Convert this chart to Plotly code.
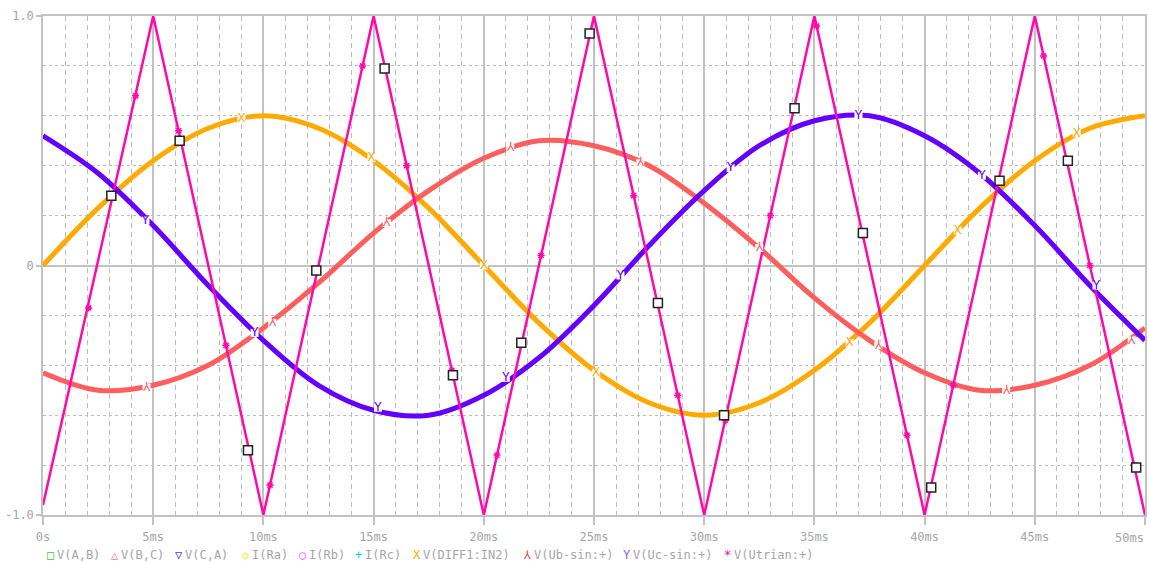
import plotly.graph_objects as go

# ---- time base (ms) and sampled waveforms ----
t_ms = [0, 2.5, 5, 7.5, 10, 12.5, 15, 17.5, 20, 22.5, 25,
        27.5, 30, 32.5, 35, 37.5, 40, 42.5, 45, 47.5, 50]

v_diff1_in2 = [0.00, 0.23, 0.42, 0.55, 0.60, 0.55, 0.42, 0.23, 0.00, -0.23, -0.42,
               -0.55, -0.60, -0.55, -0.42, -0.23, 0.00, 0.23, 0.42, 0.55, 0.60]
v_ub_sin = [-0.43, -0.50, -0.48, -0.40, -0.25, -0.07, 0.13, 0.30, 0.43, 0.50, 0.48,
            0.40, 0.25, 0.07, -0.13, -0.30, -0.43, -0.50, -0.48, -0.40, -0.25]
v_uc_sin = [0.52, 0.37, 0.16, -0.08, -0.30, -0.48, -0.58, -0.60, -0.52, -0.37, -0.16,
            0.08, 0.30, 0.48, 0.58, 0.60, 0.52, 0.37, 0.16, -0.08, -0.30]

# triangle carrier: vertices only
t_trian = [0, 5, 10, 15, 20, 25, 30, 35, 40, 45, 50]
v_trian = [-0.96, 1.0, -1.0, 1.0, -1.0, 1.0, -1.0, 1.0, -1.0, 1.0, -1.0]

# ---- trace symbol positions ----
x_mark_t = [9.0, 14.9, 20.0, 25.1, 30.9, 36.6, 41.5, 46.9]
x_mark_v = [0.59, 0.43, 0.00, -0.43, -0.60, -0.31, 0.14, 0.53]

lam_mark_t = [4.7, 10.4, 15.6, 21.2, 27.1, 32.5, 37.9, 43.7, 49.4]
lam_mark_v = [-0.49, -0.23, 0.17, 0.47, 0.41, 0.07, -0.32, -0.50, -0.30]

y_mark_t = [4.65, 9.6, 15.2, 21.0, 26.2, 31.2, 37.0, 42.6, 47.8]
y_mark_v = [0.18, -0.27, -0.57, -0.45, -0.04, 0.39, 0.60, 0.36, -0.08]

star_mark_t = [2.07, 4.2, 6.15, 8.3, 10.3, 14.5, 16.5, 18.55, 20.6, 22.6, 26.8,
               28.8, 30.96, 33.0, 35.1, 37.2, 39.2, 41.3, 45.4, 47.5, 49.5]
star_mark_v = [-0.17, 0.68, 0.54, -0.32, -0.88, 0.80, 0.40, -0.42, -0.76, 0.04, 0.28,
               -0.52, -0.62, 0.20, 0.96, 0.12, -0.68, -0.48, 0.84, 0.00, -0.80]

sq_mark_t = [3.1, 6.2, 9.3, 12.4, 15.5, 18.6, 21.7, 24.8, 27.9, 30.9, 34.1, 37.2,
             40.3, 43.4, 46.5, 49.6]
sq_mark_v = [0.28, 0.50, -0.74, -0.02, 0.79, -0.44, -0.31, 0.93, -0.15, -0.60, 0.63,
             0.13, -0.89, 0.34, 0.42, -0.81]

# ---- axis ticks ----
x_tick_ms = [0, 5, 10, 15, 20, 25, 30, 35, 40, 45, 50]
x_tick_labels = ["0s", "5ms", "10ms", "15ms", "20ms", "25ms", "30ms", "35ms",
                 "40ms", "45ms", "50ms"]
y_tick_vals = [-1.0, 0.0, 1.0]
y_tick_labels = ["-1.0", "0", "1.0"]

# ---- probe list along the bottom ----
probe_symbols = ["□", "△", "▽", "◇", "○", "+", "X", "⅄", "Y", "*"]
probe_colors = ["#33cc33", "#ff7a7a", "#5a2cff", "#f0f000", "#ff55ff", "#00d8d8",
                "#ffaa00", "#ff3030", "#8a5cff", "#ff00aa"]
probe_names = ["V(A,B)", "V(B,C)", "V(C,A)", "I(Ra)", "I(Rb)", "I(Rc)",
               "V(DIFF1:IN2)", "V(Ub-sin:+)", "V(Uc-sin:+)", "V(Utrian:+)"]

ORANGE = "#ffaa00"
SALMON = "#ff5e5e"
PURPLE = "#6400ff"
MAGENTA = "#ff0aa8"
GRID = "#c2c2c2"
LABEL = "#a6a6a6"
MONO = "DejaVu Sans Mono"

W, H = 1149, 563
ML, MR, MT, MB = 43, 2, 16, 48

fig = go.Figure()

fig.add_trace(go.Scatter(x=t_ms, y=v_diff1_in2, mode="lines", line_shape="spline",
                         line=dict(color=ORANGE, width=5)))
fig.add_trace(go.Scatter(x=t_ms, y=v_ub_sin, mode="lines", line_shape="spline",
                         line=dict(color=SALMON, width=5)))
fig.add_trace(go.Scatter(x=t_ms, y=v_uc_sin, mode="lines", line_shape="spline",
                         line=dict(color=PURPLE, width=5)))
fig.add_trace(go.Scatter(x=t_trian, y=v_trian, mode="lines",
                         line=dict(color=MAGENTA, width=2.5)))


def letter_marks(tt, vv, ch, color):
    return go.Scatter(x=tt, y=vv, mode="markers+text", text=[ch] * len(tt),
                      textposition="middle center",
                      textfont=dict(family=MONO, size=13, color=color),
                      marker=dict(symbol="square", size=8, color="white",
                                  line=dict(width=0)),
                      cliponaxis=False)


fig.add_trace(letter_marks(x_mark_t, x_mark_v, "X", ORANGE))
fig.add_trace(letter_marks(lam_mark_t, lam_mark_v, "⅄", SALMON))
fig.add_trace(letter_marks(y_mark_t, y_mark_v, "Y", PURPLE))

fig.add_trace(go.Scatter(x=star_mark_t, y=star_mark_v, mode="markers",
                         marker=dict(symbol="asterisk-open", size=6, color=MAGENTA,
                                     line=dict(color=MAGENTA, width=1.5))))
fig.add_trace(go.Scatter(x=sq_mark_t, y=sq_mark_v, mode="markers",
                         marker=dict(symbol="square", size=9, color="white",
                                     line=dict(color="#222222", width=1.5)),
                         cliponaxis=False))

pw = W - ML - MR

# the last x label would run past the window edge, so it is pulled inside
x_tick_text = x_tick_labels[:-1] + [""]
fig.add_annotation(x=1.0, y=0, xref="paper", yref="paper", xanchor="right",
                   yanchor="top", yshift=-14, xshift=1, showarrow=False,
                   text=x_tick_labels[-1],
                   font=dict(family=MONO, size=12, color=LABEL))

# probe list as text annotations along the bottom edge
probe_sym_px = [45, 109, 173, 240, 297, 354, 412, 523, 622, 723]
for px, sym, col, name in zip(probe_sym_px, probe_symbols, probe_colors, probe_names):
    fig.add_annotation(x=(px - ML) / pw, y=-0.062, xref="paper", yref="paper",
                       xanchor="left", yanchor="top", showarrow=False, text=sym,
                       font=dict(family=MONO, size=12, color=col))
    fig.add_annotation(x=(px + 10 - ML) / pw, y=-0.062, xref="paper", yref="paper",
                       xanchor="left", yanchor="top", showarrow=False, text=name,
                       font=dict(family=MONO, size=12, color=LABEL))

fig.update_layout(
    width=W, height=H,
    margin=dict(l=ML, r=MR, t=MT, b=MB),
    paper_bgcolor="white", plot_bgcolor="white",
    showlegend=False,
    font=dict(family=MONO, size=12, color=LABEL),
    xaxis=dict(range=[0, 50], tickvals=x_tick_ms, ticktext=x_tick_text,
               showgrid=True, gridcolor=GRID, gridwidth=1.5,
               ticks="outside", ticklen=8, tickcolor=GRID, tickwidth=1.5,
               ticklabelstandoff=2,
               showline=True, linecolor=GRID, linewidth=1.5, mirror=True,
               zeroline=False,
               minor=dict(dtick=1, tick0=0, showgrid=True, gridcolor="#bdbdbd",
                          griddash="5px,4px", gridwidth=1, ticks=""),
               tickfont=dict(family=MONO, size=12, color=LABEL)),
    yaxis=dict(range=[-1, 1], tickvals=y_tick_vals, ticktext=y_tick_labels,
               showgrid=True, gridcolor=GRID, gridwidth=1.5,
               ticks="outside", ticklen=5, tickcolor=GRID, tickwidth=1.5,
               showline=True, linecolor=GRID, linewidth=1.5, mirror=True,
               zeroline=True, zerolinecolor=GRID, zerolinewidth=1.5,
               minor=dict(dtick=0.2, tick0=0, showgrid=True, gridcolor="#bdbdbd",
                          griddash="3px,3px", gridwidth=1, ticks=""),
               tickfont=dict(family=MONO, size=12, color=LABEL)),
)

fig.write_html("out.html")
